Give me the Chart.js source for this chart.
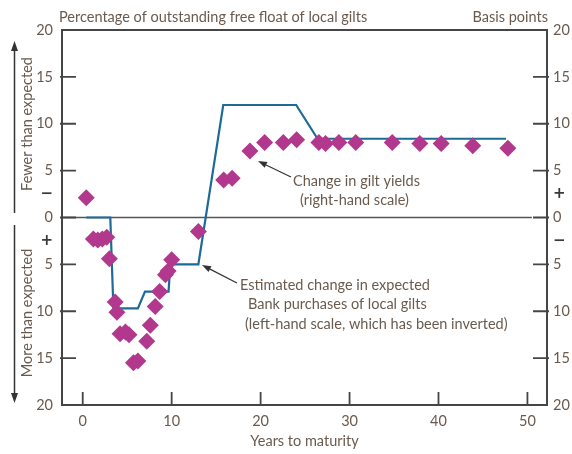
<!DOCTYPE html>
<html><head><meta charset="utf-8">
<script src="https://cdn.jsdelivr.net/npm/chart.js@4.4.0/dist/chart.umd.min.js"></script>
<style>html,body{margin:0;padding:0;background:#fff}#wrap{width:572px;height:454px;position:relative}</style>
</head><body><div id="wrap"><canvas id="c" width="572" height="454"></canvas></div>
<script>
// ---- data ----
const xTicks = [0, 10, 20, 30, 40, 50];
const yTicks = [-20, -15, -10, -5, -2.5, 0, 2.5, 5, 10, 15, 20];
// Estimated change in expected Bank purchases (left-hand scale, inverted; % of free float)
const purchaseYears  = [0.4, 3.1, 3.45, 6.2, 7.0, 9.65, 9.85, 13.0, 15.8, 24.0, 26.4, 47.6];
const purchaseValues = [0,   0,   9.7,  9.7, 7.9, 7.9,  5.0,  5.0,  -12,  -12,  -8.4, -8.4];
// Change in gilt yields (right-hand scale, basis points)
const yieldYears  = [0.4, 1.2, 1.7, 2.2, 2.7, 3.0, 3.65, 3.85, 4.2, 4.8, 5.2, 5.7, 6.2, 7.2, 7.6, 8.15, 8.65, 9.3, 9.6, 10.0, 13.0, 15.85, 16.8, 18.8, 20.45, 22.55, 24.05, 26.55, 27.3, 28.8, 30.7, 34.8, 37.9, 40.3, 43.85, 47.8];
const yieldValues = [2.1, -2.3, -2.4, -2.3, -2.1, -4.4, -9.0, -10.1, -12.4, -12.2, -12.5, -15.5, -15.3, -13.2, -11.5, -9.5, -7.9, -6.1, -5.7, -4.5, -1.5, 4.0, 4.2, 7.1, 8.0, 8.0, 8.3, 8.0, 7.9, 8.0, 8.0, 8.0, 7.9, 7.9, 7.65, 7.4];

const TXT = '#6a5a4e';
const AX = '#454545';
const FONT = 'Lato';
const FS = 14.5;

function lbl(v, topSign, botSign) {
  if (v === 2.5) return topSign;
  if (v === -2.5) return botSign;
  return String(Math.abs(v));
}
function tickFont(c) {
  const v = c.tick && c.tick.value;
  if (v === 2.5 || v === -2.5) return {family: 'DejaVu Sans', size: 15, weight: 'bold'};
  return {family: FONT, size: FS};
}
function tickColor(c) {
  const v = c.tick && c.tick.value;
  return (v === 2.5 || v === -2.5) ? '#3a3a3a' : TXT;
}

const deco = {
  id: 'deco',
  beforeDatasetsDraw(chart) {
    const {ctx, chartArea: a, scales} = chart;
    const y0 = scales.y2.getPixelForValue(0);
    ctx.save();
    ctx.strokeStyle = '#555';
    ctx.lineWidth = 1.6;
    ctx.beginPath();
    ctx.moveTo(a.left, y0);
    ctx.lineTo(scales.x.getPixelForValue(50.5), y0);
    ctx.stroke();
    ctx.restore();
  },
  afterDraw(chart) {
    const {ctx, chartArea: a, scales} = chart;
    ctx.save();
    ctx.strokeStyle = AX;
    ctx.lineWidth = 2;
    ctx.strokeRect(a.left, a.top, a.right - a.left, a.bottom - a.top);
    ctx.lineWidth = 1.8;
    ctx.beginPath();
    [-15, -10, -5, 0, 5, 10, 15].forEach(v => {
      const py = scales.y.getPixelForValue(v);
      ctx.moveTo(a.left - 2, py); ctx.lineTo(a.left + 14, py);
      const pr = scales.y2.getPixelForValue(v);
      ctx.moveTo(a.right - 14, pr); ctx.lineTo(a.right + 2, pr);
    });
    xTicks.forEach(v => {
      const px = scales.x.getPixelForValue(v);
      ctx.moveTo(px, a.bottom); ctx.lineTo(px, a.bottom - 13);
    });
    ctx.stroke();

    // side arrows
    const ax = 14.5;
    ctx.strokeStyle = '#333';
    ctx.fillStyle = '#333';
    ctx.lineWidth = 1.5;
    ctx.beginPath();
    ctx.moveTo(ax, 213); ctx.lineTo(ax, 48);
    ctx.moveTo(ax, 225); ctx.lineTo(ax, 396);
    ctx.stroke();
    ctx.beginPath();
    ctx.moveTo(ax, 41); ctx.lineTo(ax - 3.5, 51); ctx.lineTo(ax + 3.5, 51); ctx.closePath();
    ctx.moveTo(ax, 403); ctx.lineTo(ax - 3.5, 393); ctx.lineTo(ax + 3.5, 393); ctx.closePath();
    ctx.fill();

    ctx.fillStyle = TXT;
    ctx.font = FS + 'px ' + FONT;
    ctx.textBaseline = 'middle';
    ctx.textAlign = 'center';
    ctx.save(); ctx.translate(27.5, 124); ctx.rotate(-Math.PI / 2); ctx.fillText('Fewer than expected', 0, 0); ctx.restore();
    ctx.save(); ctx.translate(27.5, 313); ctx.rotate(-Math.PI / 2); ctx.fillText('More than expected', 0, 0); ctx.restore();

    ctx.textAlign = 'left';
    ctx.fillText('Percentage of outstanding free float of local gilts', 59, 17);
    ctx.textAlign = 'right';
    ctx.fillText('Basis points', 548, 17);

    ctx.textAlign = 'left';
    ctx.fillText('Change in gilt yields', 293, 181);
    ctx.fillText('(right-hand scale)', 300, 200);
    ctx.fillText('Estimated change in expected', 240, 285);
    ctx.fillText('Bank purchases of local gilts', 248, 304);
    ctx.fillText('(left-hand scale, which has been inverted)', 245, 324);

    function arrow(x1, y1, x2, y2) {
      const ang = Math.atan2(y2 - y1, x2 - x1);
      const L = 9, W = 3.2;
      const bx = x2 - L * Math.cos(ang), by = y2 - L * Math.sin(ang);
      ctx.strokeStyle = '#333'; ctx.fillStyle = '#333'; ctx.lineWidth = 1.2;
      ctx.beginPath(); ctx.moveTo(x1, y1); ctx.lineTo(bx, by); ctx.stroke();
      ctx.beginPath();
      ctx.moveTo(x2, y2);
      ctx.lineTo(bx + W * Math.sin(ang), by - W * Math.cos(ang));
      ctx.lineTo(bx - W * Math.sin(ang), by + W * Math.cos(ang));
      ctx.closePath(); ctx.fill();
    }
    arrow(291, 177, 258, 161);
    arrow(237, 283, 202, 265);
    ctx.restore();
  }
};

new Chart(document.getElementById('c'), {
  type: 'scatter',
  data: {
    datasets: [
      {
        label: 'Change in gilt yields',
        data: yieldYears.map((x, i) => ({x, y: yieldValues[i]})),
        yAxisID: 'y2',
        pointStyle: 'rectRot',
        pointRadius: 8.5,
        pointHoverRadius: 8.5,
        backgroundColor: '#b2388d',
        borderWidth: 0,
        order: 0
      },
      {
        label: 'Estimated change in expected Bank purchases',
        type: 'line',
        data: purchaseYears.map((x, i) => ({x, y: purchaseValues[i]})),
        yAxisID: 'y',
        borderColor: '#1d6a99',
        borderWidth: 2.2,
        pointRadius: 0,
        tension: 0,
        fill: false,
        showLine: true,
        order: 1
      }
    ]
  },
  options: {
    responsive: false,
    animation: false,
    devicePixelRatio: 1,
    layout: {padding: {top: 30, left: 0, right: 0, bottom: 0}},
    plugins: {legend: {display: false}, tooltip: {enabled: false}},
    scales: {
      x: {
        type: 'linear', min: -2.33, max: 52.2,
        grid: {display: false, drawTicks: false},
        border: {display: false},
        afterBuildTicks: s => { s.ticks = xTicks.map(v => ({value: v})); },
        afterFit: s => { s.height = 49; },
        ticks: {color: TXT, font: {family: FONT, size: FS}, padding: 8, autoSkip: false, maxRotation: 0},
        title: {display: true, text: 'Years to maturity', color: TXT, font: {family: FONT, size: FS}, padding: {top: 0, bottom: 4}}
      },
      y: {
        position: 'left', reverse: true, min: -20, max: 20,
        grid: {display: false, drawTicks: false},
        border: {display: false},
        afterBuildTicks: s => { s.ticks = yTicks.map(v => ({value: v})); },
        afterFit: s => { s.width = 62; },
        ticks: {color: tickColor, font: tickFont, padding: 9, autoSkip: false,
          callback: v => lbl(v, '+', '\u2212')}
      },
      y2: {
        position: 'right', min: -20, max: 20,
        grid: {display: false, drawTicks: false},
        border: {display: false},
        afterBuildTicks: s => { s.ticks = yTicks.map(v => ({value: v})); },
        afterFit: s => { s.width = 25; },
        ticks: {color: tickColor, font: tickFont, padding: 6, autoSkip: false,
          callback: v => lbl(v, '+', '\u2212')}
      }
    }
  },
  plugins: [deco]
});
</script>
</body></html>
